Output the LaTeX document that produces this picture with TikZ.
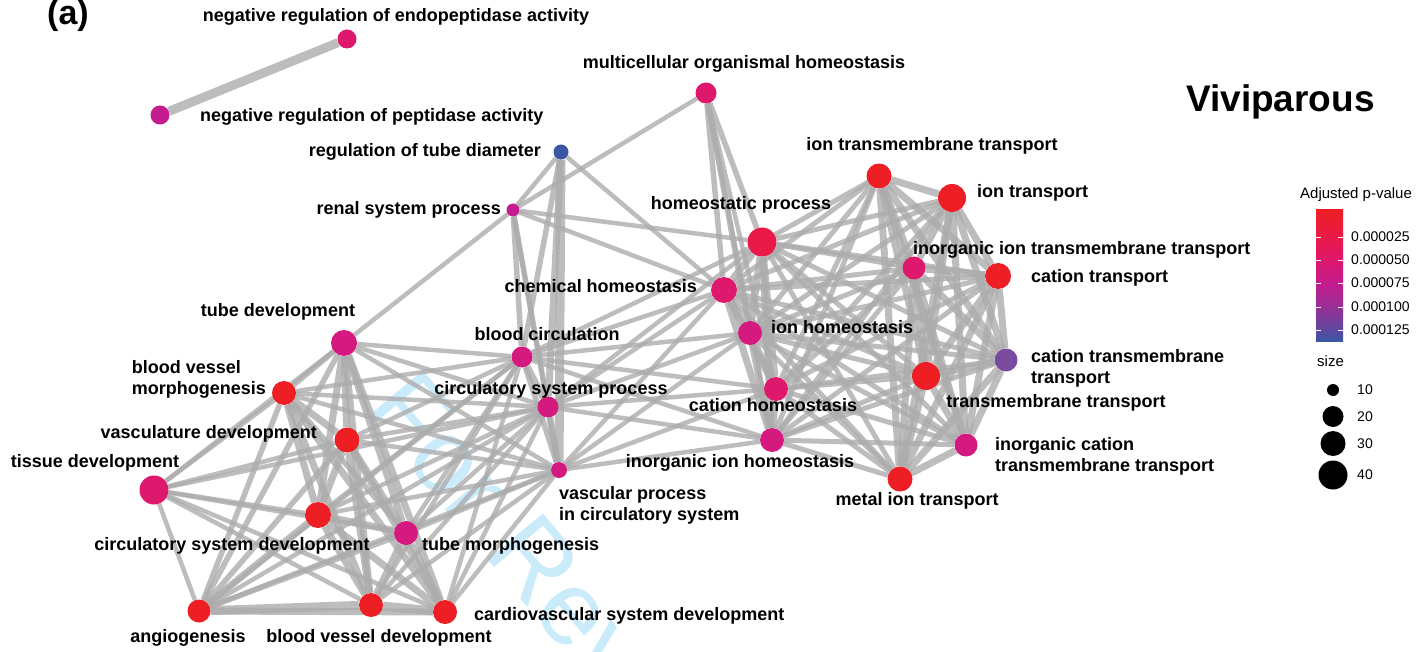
\documentclass[tikz,border=0pt]{standalone}
\usepackage{fontspec}
\setmainfont{Liberation Sans}
\usetikzlibrary{backgrounds}

% p-value colours, smallest p first
\definecolor{pv1}{RGB}{237,31,36}
\definecolor{pv2}{RGB}{233,25,72}
\definecolor{pv3}{RGB}{222,24,108}
\definecolor{pv4}{RGB}{212,26,126}
\definecolor{pv5}{RGB}{196,27,142}
\definecolor{pv6}{RGB}{122,74,158}
\definecolor{pv7}{RGB}{58,86,165}
\definecolor{bar4}{RGB}{152,48,150}
\definecolor{bar5}{RGB}{92,72,160}
\definecolor{edgegray}{RGB}{172,172,172}
\definecolor{wmark}{RGB}{202,235,250}

\begin{document}
\begin{tikzpicture}[x=1pt,y=-1pt,
   term/.style={circle,inner sep=0pt,minimum size=#1},
   lbl/.style={font=\bfseries\fontsize{18}{21}\selectfont,inner sep=0pt,text height=13pt,text depth=4pt},
   lbltwo/.style={font=\bfseries\fontsize{18}{21}\selectfont,inner sep=0pt,align=left},
   link/.style={draw=edgegray,draw opacity=0.8,line width=#1},
   leg/.style={font=\fontsize{15}{18}\selectfont,inner sep=0pt}]
\useasboundingbox (0,0) rectangle (1418,652);

% GO terms
\node[term=19pt,fill=pv3] (nre) at (347,39) {};
\node[term=19pt,fill=pv5] (nrp) at (160,115) {};
\node[term=21pt,fill=pv3] (moh) at (706,93) {};
\node[term=15pt,fill=pv7] (rtd) at (561,152) {};
\node[term=13pt,fill=pv5] (rsp) at (513,210) {};
\node[term=25pt,fill=pv1] (itt) at (879,176) {};
\node[term=28pt,fill=pv1] (itr) at (952,198) {};
\node[term=29pt,fill=pv2] (hpr) at (762,242) {};
\node[term=23pt,fill=pv3] (iitt) at (914,268) {};
\node[term=26pt,fill=pv1] (ctr) at (998,276) {};
\node[term=26pt,fill=pv3] (chh) at (724,290) {};
\node[term=24pt,fill=pv4] (ihm) at (750,333) {};
\node[term=26pt,fill=pv4] (tdv) at (344,343) {};
\node[term=21pt,fill=pv4] (bci) at (522,357) {};
\node[term=24pt,fill=pv1] (bvm) at (284,393) {};
\node[term=23pt,fill=pv6] (ctt) at (1006,360) {};
\node[term=24pt,fill=pv3] (chm) at (776,389) {};
\node[term=21pt,fill=pv4] (csp) at (548,407) {};
\node[term=28pt,fill=pv1] (ttr) at (926,376) {};
\node[term=25pt,fill=pv1] (vdv) at (347,440) {};
\node[term=24pt,fill=pv4] (iih) at (772,440) {};
\node[term=23pt,fill=pv4] (ictt) at (966,445) {};
\node[term=29pt,fill=pv3] (tid) at (154,490) {};
\node[term=16pt,fill=pv4] (vpc) at (559,470) {};
\node[term=25pt,fill=pv1] (mit) at (900,479) {};
\node[term=26pt,fill=pv1] (csd) at (318,515) {};
\node[term=24pt,fill=pv4] (tmo) at (406,533) {};
\node[term=23pt,fill=pv1] (ang) at (199,611) {};
\node[term=24pt,fill=pv1] (bvd) at (371,605) {};
\node[term=24pt,fill=pv1] (cvd) at (445,612) {};

% term names
\node[lbl] (nre-l) at (396,17) {negative regulation of endopeptidase activity};
\node[lbl,anchor=west] (nrp-l) at (200,117) {negative regulation of peptidase activity};
\node[lbl] (moh-l) at (744,64) {multicellular organismal homeostasis};
\node[lbl,anchor=east] (rtd-l) at (541,152) {regulation of tube diameter};
\node[lbl,anchor=east] (rsp-l) at (501,210) {renal system process};
\node[lbl] (itt-l) at (932,146) {ion transmembrane transport};
\node[lbl,anchor=west] (itr-l) at (977,193) {ion transport};
\node[lbl] (hpr-l) at (741,205) {homeostatic process};
\node[lbl,anchor=west] (iitt-l) at (913,250) {inorganic ion transmembrane transport};
\node[lbl,anchor=west] (ctr-l) at (1031,278) {cation transport};
\node[lbl,anchor=east] (chh-l) at (697,288) {chemical homeostasis};
\node[lbl,anchor=west] (ihm-l) at (771,329) {ion homeostasis};
\node[lbl] (tdv-l) at (278,312) {tube development};
\node[lbl] (bci-l) at (547,336) {blood circulation};
\node[lbltwo,anchor=east] (bvm-l) at (266,379) {blood vessel\\morphogenesis};
\node[lbltwo,anchor=west] (ctt-l) at (1031,368) {cation transmembrane\\transport};
\node[lbl] (chm-l) at (773,407) {cation homeostasis};
\node[lbl] (csp-l) at (551,390) {circulatory system process};
\node[lbl] (ttr-l) at (1056,403) {transmembrane transport};
\node[lbl,anchor=east] (vdv-l) at (317,434) {vasculature development};
\node[lbl] (iih-l) at (740,463) {inorganic ion homeostasis};
\node[lbltwo,anchor=west] (ictt-l) at (995,456) {inorganic cation\\transmembrane transport};
\node[lbl] (tid-l) at (95,463) {tissue development};
\node[lbltwo,anchor=west] (vpc-l) at (559,505) {vascular process\\in circulatory system};
\node[lbl] (mit-l) at (917,501) {metal ion transport};
\node[lbl] (csd-l) at (232,546) {circulatory system development};
\node[lbl,anchor=west] (tmo-l) at (422,546) {tube morphogenesis};
\node[lbl] (ang-l) at (188,638) {angiogenesis};
\node[lbl] (bvd-l) at (379,638) {blood vessel development};
\node[lbl,anchor=west] (cvd-l) at (474,616) {cardiovascular system development};

% panel letter and title
\node[font=\bfseries\fontsize{34}{34}\selectfont,inner sep=0pt,anchor=west] (panel) at (47,16) {(a)};
\node[font=\bfseries\fontsize{37}{37}\selectfont,inner sep=0pt,anchor=west] (title) at (1186,102) {Viviparous};

% legend: colour bar, one shaded band per step
\node[leg,anchor=west] (pv-title) at (1300,195) {Adjusted p-value};
\foreach \ya/\yb/\ca/\cb in {210/237/pv1/pv2,237/260/pv2/pv3,260/283/pv3/pv5,
                             283/307/pv5/bar4,307/330/bar4/bar5,330/341/bar5/pv7}
  \shade[top color=\ca,bottom color=\cb] (1316,\ya) rectangle (1343,\yb+0.3);
\foreach \y/\v [count=\i] in {237/0.000025,260/0.000050,283/0.000075,307/0.000100,330/0.000125}{
  \draw[white,line width=0.8pt] (1316,\y) -- ++(5,0);
  \draw[white,line width=0.8pt] (1338,\y) -- ++(5,0);
  \node[leg,font=\fontsize{14}{16}\selectfont,anchor=west] (tick\i) at (1351,\y) {\v};
}
% legend: size
\node[leg,anchor=west] (size-title) at (1317,361) {size};
\foreach \y/\d/\n [count=\i] in {390/12pt/10,416.5/21pt/20,443.5/25pt/30,475/29pt/40}{
  \node[term=\d,fill=black] (sz\i) at (1333,\y) {};
  \node[leg,font=\fontsize{14}{16}\selectfont,anchor=west] (szl\i) at (1357,\y) {\n};
}

\begin{pgfonlayer}{background}
% review stamp behind the network
\begin{scope}
\clip (0,0) rectangle (1418,652);
\node[text=wmark,font=\fontsize{105}{105}\selectfont,inner sep=0pt,anchor=base west,rotate=-50] (stamp) at (362,410) {For Review};
\end{scope}

% thin cross links
\foreach \a/\b in {rtd/rsp,rsp/vpc,rsp/tdv,rsp/moh,rsp/hpr,rsp/chh,rtd/chh,
  tid/tdv,tid/bvm,tid/vdv,tid/csd,tid/tmo,tid/ang,tid/bvd,tid/cvd,tid/csp,
  bci/tdv,bci/bvm,bci/vdv,bci/csd,bci/tmo,bci/ang,bci/bvd,bci/cvd,
  csp/tdv,csp/bvm,csp/vdv,csp/csd,csp/tmo,csp/ang,csp/bvd,csp/cvd,
  vpc/tdv,vpc/bvm,vpc/vdv,vpc/csd,vpc/tmo,vpc/ang,vpc/bvd,vpc/cvd,
  bci/chh,bci/hpr,bci/ihm,bci/chm,bci/iih,csp/chh,csp/ihm,csp/chm,csp/iih,csp/hpr,
  vpc/iih,vpc/chm,vpc/ihm,vpc/chh,
  moh/chm,moh/iih}
  \draw[link=4.5pt] (\a) -- (\b);

% medium links
\foreach \a/\b in {rtd/bci,rsp/bci,rsp/csp,bci/vpc,tdv/bvm,bvm/tmo,bvm/ang,vdv/ang,tdv/ang,tmo/ang,
  moh/hpr,moh/chh,moh/ihm}
  \draw[link=5.5pt] (\a) -- (\b);
\foreach \h in {hpr,chh,ihm,chm,iih}
  \foreach \t in {itt,itr,iitt,ctr,ctt,ttr,ictt,mit}
    \draw[link=5pt] (\h) -- (\t);

% heavy links
\foreach \a/\b in {rtd/csp,bci/csp,csp/vpc,
  tdv/vdv,tdv/csd,tdv/tmo,tdv/bvd,tdv/cvd,bvm/vdv,bvm/csd,bvm/bvd,bvm/cvd,
  vdv/csd,vdv/tmo,vdv/bvd,vdv/cvd,csd/tmo,csd/bvd,csd/cvd,csd/ang,tmo/bvd,tmo/cvd,ang/cvd,
  hpr/chh,hpr/ihm,hpr/chm,hpr/iih,chh/ihm,chh/chm,chh/iih,ihm/chm,ihm/iih,chm/iih,
  itt/itr,itt/iitt,itt/ctr,itt/ctt,itt/ttr,itt/ictt,itt/mit,
  itr/iitt,itr/ctr,itr/ctt,itr/ttr,itr/ictt,itr/mit,
  iitt/ctr,iitt/ctt,iitt/ttr,iitt/ictt,iitt/mit,
  ctr/ctt,ctr/ttr,ctr/ictt,ctr/mit,ctt/ttr,ctt/ictt,ctt/mit,
  ttr/ictt,ttr/mit,ictt/mit}
  \draw[link=7pt] (\a) -- (\b);
\foreach \a/\b in {nre/nrp,ang/bvd,bvd/cvd,rtd/vpc}
  \draw[link=9pt] (\a) -- (\b);
\end{pgfonlayer}
\end{tikzpicture}
\end{document}
